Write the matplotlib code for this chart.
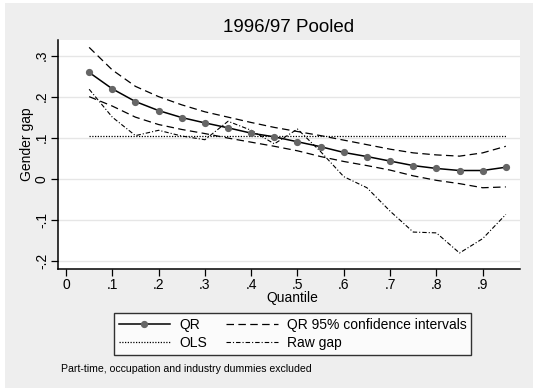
import matplotlib
matplotlib.use("Agg")
import matplotlib.pyplot as plt
from matplotlib.lines import Line2D
from matplotlib.patches import Rectangle
import numpy as np

plt.rcParams['font.family'] = ['Liberation Sans', 'DejaVu Sans']

quantiles = [0.05, 0.10, 0.15, 0.20, 0.25, 0.30, 0.35, 0.40, 0.45, 0.50,
             0.55, 0.60, 0.65, 0.70, 0.75, 0.80, 0.85, 0.90, 0.95]
qr = [0.259, 0.219, 0.188, 0.166, 0.149, 0.136, 0.124, 0.111, 0.102, 0.090,
      0.078, 0.064, 0.054, 0.043, 0.032, 0.025, 0.020, 0.020, 0.028]
ci_upper = [0.320, 0.265, 0.225, 0.200, 0.180, 0.163, 0.150, 0.137, 0.125, 0.115,
            0.105, 0.094, 0.083, 0.072, 0.063, 0.058, 0.055, 0.063, 0.079]
ci_lower = [0.200, 0.177, 0.150, 0.132, 0.120, 0.110, 0.099, 0.089, 0.079, 0.068,
            0.054, 0.042, 0.032, 0.021, 0.007, -0.004, -0.012, -0.022, -0.020]
raw_gap = [0.218, 0.150, 0.105, 0.118, 0.104, 0.095, 0.140, 0.118, 0.085, 0.121,
           0.066, 0.005, -0.022, -0.079, -0.130, -0.132, -0.181, -0.146, -0.087]
ols = 0.105

xticks = [0, 0.1, 0.2, 0.3, 0.4, 0.5, 0.6, 0.7, 0.8, 0.9]
xticklabels = ['0', '.1', '.2', '.3', '.4', '.5', '.6', '.7', '.8', '.9']
yticks = [-0.2, -0.1, 0, 0.1, 0.2, 0.3]
yticklabels = ['-.2', '-.1', '0', '.1', '.2', '.3']

W, H = 533, 390
fig = plt.figure(figsize=(W / 100, H / 100), dpi=100, facecolor='white')
fig.patches.append(Rectangle((5 / W, 1 - 388 / H), 1 - 5 / W, (388 - 3) / H,
                             transform=fig.transFigure, facecolor='#eeeeee',
                             edgecolor='none', zorder=-10))

L, R, T, B = 58, 520, 40, 269
ax = fig.add_axes([L / W, 1 - B / H, (R - L) / W, (B - T) / H])
ax.set_facecolor('white')
ax.set_xlim(-0.0173, 0.9806)
ax.set_ylim(-0.220, 0.338)

for y in yticks:
    ax.axhline(y, color='#e6e6e6', lw=1.0, zorder=0)

ax.plot(quantiles, [ols] * len(quantiles), color='black', lw=0.9,
        linestyle=(0, (1, 1.2)), zorder=2)
ax.plot(quantiles, ci_upper, color='black', lw=0.9, linestyle=(0, (6, 3.5)), zorder=2)
ax.plot(quantiles, ci_lower, color='black', lw=0.9, linestyle=(0, (6, 3.5)), zorder=2)
ax.plot(quantiles, raw_gap, color='black', lw=0.8,
        linestyle=(0, (4, 1.8, 1, 1.8)), zorder=2)
ax.plot(quantiles, qr, color='black', lw=1.1, zorder=3)
ax.plot(quantiles, qr, linestyle='none', marker='o', markersize=4.2,
        markerfacecolor='#666666', markeredgecolor='#666666', zorder=4)

for s in ['top', 'right']:
    ax.spines[s].set_visible(False)
for s in ['left', 'bottom']:
    ax.spines[s].set_linewidth(1.1)
    ax.spines[s].set_color('black')

ax.set_xticks(xticks)
ax.set_xticklabels(xticklabels, fontsize=10)
ax.set_yticks(yticks)
ax.set_yticklabels(yticklabels, fontsize=10, rotation=90, va='center')
ax.tick_params(axis='both', direction='out', length=5, width=0.9)
ax.tick_params(axis='x', pad=1.5)
ax.tick_params(axis='y', pad=1.5)

fig.text(289 / W, 1 - 28 / H, '1996/97 Pooled', fontsize=13.5,
         ha='center', va='center')
fig.text(292 / W, 1 - 298 / H, 'Quantile', fontsize=10, ha='center', va='center')
fig.text(27 / W, 1 - 144 / H, 'Gender gap', fontsize=10, ha='center',
         va='center', rotation=90)
fig.text(61 / W, 1 - 369 / H, 'Part-time, occupation and industry dummies excluded',
         fontsize=7.6, ha='left', va='center')

handles = [
    Line2D([], [], color='black', lw=1.1, marker='o', markersize=4.2,
           markerfacecolor='#666666', markeredgecolor='#666666', markevery=[1]),
    Line2D([], [], color='black', lw=0.9, linestyle=(0, (1, 1.2))),
    Line2D([], [], color='black', lw=0.9, linestyle=(0, (6, 3.5))),
    Line2D([], [], color='black', lw=0.8, linestyle=(0, (4, 1.8, 1, 1.8))),
]
labels = ['QR', 'OLS', 'QR 95% confidence intervals', 'Raw gap']
leg = fig.legend(handles, labels, ncol=2, loc='center',
                 bbox_to_anchor=(292.5 / W, 1 - 334 / H), fontsize=10,
                 frameon=True, fancybox=False, edgecolor='black',
                 handlelength=3.7, handletextpad=0.65, columnspacing=1.4,
                 labelspacing=0.25, borderpad=0.35)
leg.get_frame().set_linewidth(1.0)
leg.get_frame().set_facecolor('white')

fig.savefig('out.png', dpi=100, facecolor=fig.get_facecolor())
